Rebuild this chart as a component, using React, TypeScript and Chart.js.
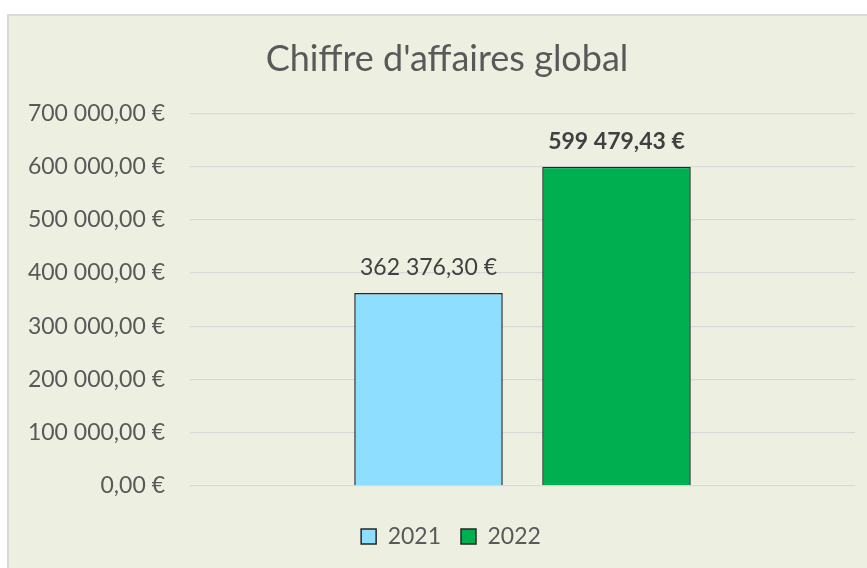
import React, { useEffect, useRef } from "react";
import { Chart, registerables } from "chart.js";

Chart.register(...registerables);

const title = "Chiffre d'affaires global";
const categories = ["Chiffre d'affaires"];
const seriesNames = ["2021", "2022"];
const seriesValues = [362376.3, 599479.43];
const seriesColors = ["#8EDFFF", "#00B050"];
const labelBold = [false, true];
const yMin = 0;
const yMax = 700000;
const yStep = 100000;

function formatEuro(v: number): string {
  const fixed = Math.abs(v).toFixed(2);
  const [intPart, dec] = fixed.split(".");
  const grouped = intPart.replace(/\B(?=(\d{3})+(?!\d))/g, " ");
  return (v < 0 ? "-" : "") + grouped + "," + dec + " €";
}

const FONT = "Lato, 'Open Sans', sans-serif";

const dataLabelPlugin = {
  id: "dataLabels",
  afterDatasetsDraw(chart: any) {
    const ctx = chart.ctx;
    ctx.save();
    ctx.textAlign = "center";
    ctx.textBaseline = "middle";
    ctx.fillStyle = "#404040";
    chart.data.datasets.forEach((ds: any, i: number) => {
      const meta = chart.getDatasetMeta(i);
      meta.data.forEach((el: any, j: number) => {
        const v = ds.data[j];
        if (v == null) return;
        ctx.font = `${labelBold[i] ? "bold " : ""}23px ${FONT}`;
        ctx.fillText(formatEuro(v), el.x, el.y - 25);
      });
    });
    ctx.restore();
  },
};

const shiftPlugin = {
  id: "shiftBoxes",
  afterLayout(chart: any) {
    const lg = chart.legend;
    if (lg) {
      lg.left += 10;
      lg.right += 10;
      (lg.legendHitBoxes || []).forEach((h: any) => (h.left += 10));
    }
    const tb = chart.titleBlock;
    if (tb) {
      tb.left += 6;
      tb.right += 6;
    }
  },
};

export default function App() {
  const ref = useRef<HTMLCanvasElement | null>(null);

  useEffect(() => {
    if (!ref.current) return;
    const chart = new Chart(ref.current, {
      type: "bar",
      data: {
        labels: categories,
        datasets: seriesNames.map((name, i) => ({
          label: name,
          data: [seriesValues[i]],
          backgroundColor: seriesColors[i],
          borderColor: "#262626",
          borderWidth: 1.5,
          categoryPercentage: 0.5654,
          barPercentage: 0.79,
        })),
      },
      options: {
        animation: false,
        responsive: false,
        maintainAspectRatio: false,
        layout: { padding: { left: 18, right: 12, top: 0, bottom: 10 } },
        plugins: {
          title: {
            display: true,
            text: title,
            color: "#595959",
            font: { family: FONT, size: 36, weight: "normal" },
            padding: { top: 22, bottom: 32 },
          },
          legend: {
            display: true,
            position: "bottom",
            labels: {
              color: "#595959",
              font: { family: FONT, size: 23 },
              boxWidth: 15,
              boxHeight: 15,
              padding: 20,
            },
          },
          tooltip: { enabled: false },
        },
        scales: {
          x: {
            display: true,
            grid: { display: false },
            border: { display: false },
            ticks: { display: false },
            afterFit(scale: any) {
              scale.height = 19;
            },
          },
          y: {
            min: yMin,
            max: yMax,
            border: { display: false },
            grid: { color: "#D9D9D9", lineWidth: 1.3, drawTicks: false },
            ticks: {
              stepSize: yStep,
              padding: 25,
              color: "#595959",
              font: { family: FONT, size: 23 },
              callback: (v: any) => formatEuro(Number(v)),
            },
            afterFit(scale: any) {
              scale.width = 163;
            },
          },
        },
      },
      plugins: [dataLabelPlugin, shiftPlugin],
    });
    return () => chart.destroy();
  }, []);

  return (
    <div
      style={{
        position: "absolute",
        left: 7,
        top: 14,
        width: 860,
        height: 554,
        boxSizing: "border-box",
        borderLeft: "2px solid #D9D9D9",
        borderTop: "2px solid #D9D9D9",
        background: "#EDF0E1",
        overflow: "hidden",
      }}
    >
      <canvas ref={ref} width={858} height={552} style={{ display: "block" }} />
    </div>
  );
}
